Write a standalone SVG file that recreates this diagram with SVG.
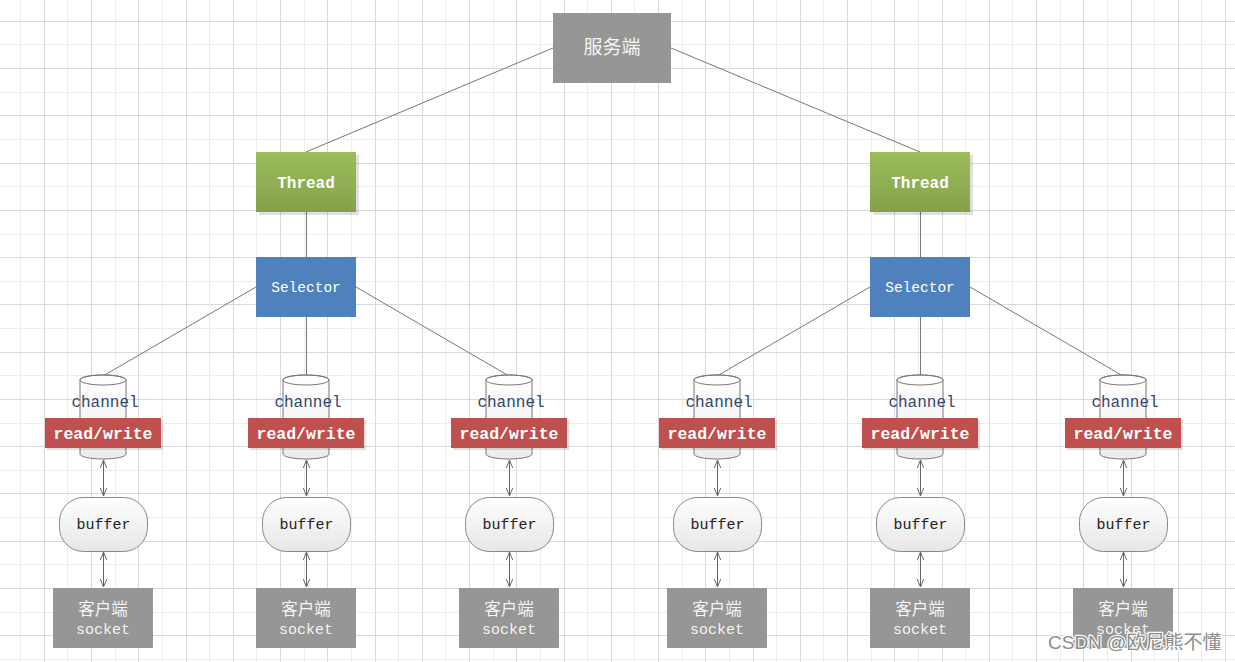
<svg xmlns="http://www.w3.org/2000/svg" width="1235" height="662" viewBox="0 0 1235 662">
<style>
.gl{stroke:#ededed;stroke-width:1;fill:none}
.gd{stroke:#d9d9d9;stroke-width:1;fill:none}
.conn{stroke:#777;stroke-width:1;fill:none}
.arr{stroke:#666;stroke-width:1;fill:none;marker-start:url(#ah);marker-end:url(#ah)}
.gray{fill:#969696}
.cn{font-family:"Noto Sans CJK SC","Noto Sans",sans-serif;fill:#f4f4f4;text-anchor:middle}
.mono{font-family:"Liberation Mono","DejaVu Sans Mono",monospace;text-anchor:middle}
.wt{fill:#fff}
.shadow{fill:#000;opacity:0.12}
.cyl{fill:url(#cylg);stroke:#777;stroke-width:1}
.buf{fill:url(#bufg);stroke:#888;stroke-width:1}
</style>
<defs>
<linearGradient id="thg" x1="0" y1="0" x2="0" y2="1"><stop offset="0" stop-color="#9dbd5b"/><stop offset="1" stop-color="#84a14a"/></linearGradient>
<linearGradient id="cylg" x1="0" y1="0" x2="0" y2="1"><stop offset="0" stop-color="#ffffff"/><stop offset="1" stop-color="#ececec"/></linearGradient>
<linearGradient id="bufg" x1="0" y1="0" x2="0" y2="1"><stop offset="0" stop-color="#ffffff"/><stop offset="1" stop-color="#e6e6e6"/></linearGradient>
<marker id="ah" viewBox="0 0 10 10" refX="10" refY="5" markerWidth="8" markerHeight="8" markerUnits="userSpaceOnUse" orient="auto-start-reverse"><path d="M0,1 L10,5 L0,9" fill="none" stroke="#666" stroke-width="1.2"/></marker>
</defs>
<rect width="1235" height="662" fill="#fff"/>
<g id="grid">
<path class="gl" d="M20.5,0V662M67.5,0V662M115.5,0V662M162.5,0V662M209.5,0V662M256.5,0V662M304.5,0V662M351.5,0V662M398.5,0V662M445.5,0V662M493.5,0V662M540.5,0V662M587.5,0V662M634.5,0V662M682.5,0V662M729.5,0V662M776.5,0V662M823.5,0V662M871.5,0V662M918.5,0V662M965.5,0V662M1012.5,0V662M1060.5,0V662M1107.5,0V662M1154.5,0V662M1201.5,0V662M0,44.5H1235M0,92.5H1235M0,139.5H1235M0,186.5H1235M0,234.5H1235M0,281.5H1235M0,328.5H1235M0,375.5H1235M0,423.5H1235M0,470.5H1235M0,517.5H1235M0,564.5H1235M0,612.5H1235M0,659.5H1235"/>
<path class="gd" d="M44.5,0V662M91.5,0V662M138.5,0V662M186.5,0V662M233.5,0V662M280.5,0V662M327.5,0V662M375.5,0V662M422.5,0V662M469.5,0V662M516.5,0V662M564.5,0V662M611.5,0V662M658.5,0V662M705.5,0V662M753.5,0V662M800.5,0V662M847.5,0V662M894.5,0V662M942.5,0V662M989.5,0V662M1036.5,0V662M1083.5,0V662M1131.5,0V662M1178.5,0V662M1225.5,0V662M0,21.5H1235M0,68.5H1235M0,115.5H1235M0,163.5H1235M0,210.5H1235M0,257.5H1235M0,304.5H1235M0,352.5H1235M0,399.5H1235M0,446.5H1235M0,493.5H1235M0,541.5H1235M0,588.5H1235M0,635.5H1235"/>
</g>
<g id="connectors">
<path class="conn" d="M553,48L306,152M671,48L920,152M306.5,212V257M920.5,212V257"/>
<path class="conn" d="M256,287L103,376M306.5,317V376M356,287L509,376"/>
<path class="conn" d="M870,287L717,376M920.5,317V376M970,287L1123,376"/>
<path class="arr" d="M103.5,460V496"/><path class="arr" d="M103.5,552V587"/>
<path class="arr" d="M306.5,460V496"/><path class="arr" d="M306.5,552V587"/>
<path class="arr" d="M509.5,460V496"/><path class="arr" d="M509.5,552V587"/>
<path class="arr" d="M717.5,460V496"/><path class="arr" d="M717.5,552V587"/>
<path class="arr" d="M920.5,460V496"/><path class="arr" d="M920.5,552V587"/>
<path class="arr" d="M1123.5,460V496"/><path class="arr" d="M1123.5,552V587"/>
</g>
<g id="server">
<rect class="gray" x="553" y="13" width="118" height="70"/>
<text class="cn" x="612" y="54" font-size="19">服务端</text>
</g>
<g id="thread-left">
<rect class="shadow" x="259" y="155" width="100" height="60"/>
<rect x="256" y="152" width="100" height="60" fill="url(#thg)"/>
<text class="mono wt" x="306" y="188" font-size="16" font-weight="bold">Thread</text>
</g>
<g id="thread-right">
<rect class="shadow" x="873" y="155" width="100" height="60"/>
<rect x="870" y="152" width="100" height="60" fill="url(#thg)"/>
<text class="mono wt" x="920" y="188" font-size="16" font-weight="bold">Thread</text>
</g>
<g id="selector-left">
<rect x="256" y="257" width="100" height="60" fill="#4f81bd"/>
<text class="mono wt" x="306" y="292" font-size="14.5">Selector</text>
</g>
<g id="selector-right">
<rect x="870" y="257" width="100" height="60" fill="#4f81bd"/>
<text class="mono wt" x="920" y="292" font-size="14.5">Selector</text>
</g>
<g id="channel-1" transform="translate(103,0)">
<path class="cyl" d="M-23,380V454A23,5 0 0 0 23,454V380A23,5 0 0 0 -23,380Z"/>
<ellipse cx="0" cy="380" rx="23" ry="5" fill="none" stroke="#777"/>
<text class="mono" x="2" y="407" font-size="16" fill="#34466a">channel</text>
<rect class="shadow" x="-56" y="420" width="116" height="30"/>
<rect x="-58" y="418" width="116" height="30" fill="#c0504d"/>
<text class="mono wt" x="0" y="439" font-size="16.5" font-weight="bold">read/write</text>
</g>
<g id="channel-2" transform="translate(306,0)">
<path class="cyl" d="M-23,380V454A23,5 0 0 0 23,454V380A23,5 0 0 0 -23,380Z"/>
<ellipse cx="0" cy="380" rx="23" ry="5" fill="none" stroke="#777"/>
<text class="mono" x="2" y="407" font-size="16" fill="#34466a">channel</text>
<rect class="shadow" x="-56" y="420" width="116" height="30"/>
<rect x="-58" y="418" width="116" height="30" fill="#c0504d"/>
<text class="mono wt" x="0" y="439" font-size="16.5" font-weight="bold">read/write</text>
</g>
<g id="channel-3" transform="translate(509,0)">
<path class="cyl" d="M-23,380V454A23,5 0 0 0 23,454V380A23,5 0 0 0 -23,380Z"/>
<ellipse cx="0" cy="380" rx="23" ry="5" fill="none" stroke="#777"/>
<text class="mono" x="2" y="407" font-size="16" fill="#34466a">channel</text>
<rect class="shadow" x="-56" y="420" width="116" height="30"/>
<rect x="-58" y="418" width="116" height="30" fill="#c0504d"/>
<text class="mono wt" x="0" y="439" font-size="16.5" font-weight="bold">read/write</text>
</g>
<g id="channel-4" transform="translate(717,0)">
<path class="cyl" d="M-23,380V454A23,5 0 0 0 23,454V380A23,5 0 0 0 -23,380Z"/>
<ellipse cx="0" cy="380" rx="23" ry="5" fill="none" stroke="#777"/>
<text class="mono" x="2" y="407" font-size="16" fill="#34466a">channel</text>
<rect class="shadow" x="-56" y="420" width="116" height="30"/>
<rect x="-58" y="418" width="116" height="30" fill="#c0504d"/>
<text class="mono wt" x="0" y="439" font-size="16.5" font-weight="bold">read/write</text>
</g>
<g id="channel-5" transform="translate(920,0)">
<path class="cyl" d="M-23,380V454A23,5 0 0 0 23,454V380A23,5 0 0 0 -23,380Z"/>
<ellipse cx="0" cy="380" rx="23" ry="5" fill="none" stroke="#777"/>
<text class="mono" x="2" y="407" font-size="16" fill="#34466a">channel</text>
<rect class="shadow" x="-56" y="420" width="116" height="30"/>
<rect x="-58" y="418" width="116" height="30" fill="#c0504d"/>
<text class="mono wt" x="0" y="439" font-size="16.5" font-weight="bold">read/write</text>
</g>
<g id="channel-6" transform="translate(1123,0)">
<path class="cyl" d="M-23,380V454A23,5 0 0 0 23,454V380A23,5 0 0 0 -23,380Z"/>
<ellipse cx="0" cy="380" rx="23" ry="5" fill="none" stroke="#777"/>
<text class="mono" x="2" y="407" font-size="16" fill="#34466a">channel</text>
<rect class="shadow" x="-56" y="420" width="116" height="30"/>
<rect x="-58" y="418" width="116" height="30" fill="#c0504d"/>
<text class="mono wt" x="0" y="439" font-size="16.5" font-weight="bold">read/write</text>
</g>
<g id="buffer-1"><rect class="buf" x="59.5" y="497.5" width="88" height="54" rx="24"/><text class="mono" x="103.5" y="529" font-size="15" fill="#222">buffer</text></g>
<g id="buffer-2"><rect class="buf" x="262.5" y="497.5" width="88" height="54" rx="24"/><text class="mono" x="306.5" y="529" font-size="15" fill="#222">buffer</text></g>
<g id="buffer-3"><rect class="buf" x="465.5" y="497.5" width="88" height="54" rx="24"/><text class="mono" x="509.5" y="529" font-size="15" fill="#222">buffer</text></g>
<g id="buffer-4"><rect class="buf" x="673.5" y="497.5" width="88" height="54" rx="24"/><text class="mono" x="717.5" y="529" font-size="15" fill="#222">buffer</text></g>
<g id="buffer-5"><rect class="buf" x="876.5" y="497.5" width="88" height="54" rx="24"/><text class="mono" x="920.5" y="529" font-size="15" fill="#222">buffer</text></g>
<g id="buffer-6"><rect class="buf" x="1079.5" y="497.5" width="88" height="54" rx="24"/><text class="mono" x="1123.5" y="529" font-size="15" fill="#222">buffer</text></g>
<g id="socket-1"><rect class="gray" x="53" y="588" width="100" height="60"/><text class="cn" x="103" y="615" font-size="16.5">客户端</text><text class="mono" x="103" y="634" font-size="15" fill="#f4f4f4">socket</text></g>
<g id="socket-2"><rect class="gray" x="256" y="588" width="100" height="60"/><text class="cn" x="306" y="615" font-size="16.5">客户端</text><text class="mono" x="306" y="634" font-size="15" fill="#f4f4f4">socket</text></g>
<g id="socket-3"><rect class="gray" x="459" y="588" width="100" height="60"/><text class="cn" x="509" y="615" font-size="16.5">客户端</text><text class="mono" x="509" y="634" font-size="15" fill="#f4f4f4">socket</text></g>
<g id="socket-4"><rect class="gray" x="667" y="588" width="100" height="60"/><text class="cn" x="717" y="615" font-size="16.5">客户端</text><text class="mono" x="717" y="634" font-size="15" fill="#f4f4f4">socket</text></g>
<g id="socket-5"><rect class="gray" x="870" y="588" width="100" height="60"/><text class="cn" x="920" y="615" font-size="16.5">客户端</text><text class="mono" x="920" y="634" font-size="15" fill="#f4f4f4">socket</text></g>
<g id="socket-6"><rect class="gray" x="1073" y="588" width="100" height="60"/><text class="cn" x="1123" y="615" font-size="16.5">客户端</text><text class="mono" x="1123" y="634" font-size="15" fill="#f4f4f4">socket</text></g>
<g id="watermark">
<text x="1048" y="649" font-family="'Liberation Sans','Noto Sans CJK SC',sans-serif" font-size="19" fill="#8a8a8a" stroke="#fff" stroke-width="2.5" paint-order="stroke" opacity="0.95">CSDN @欧尼熊不懂</text>
</g>
</svg>
